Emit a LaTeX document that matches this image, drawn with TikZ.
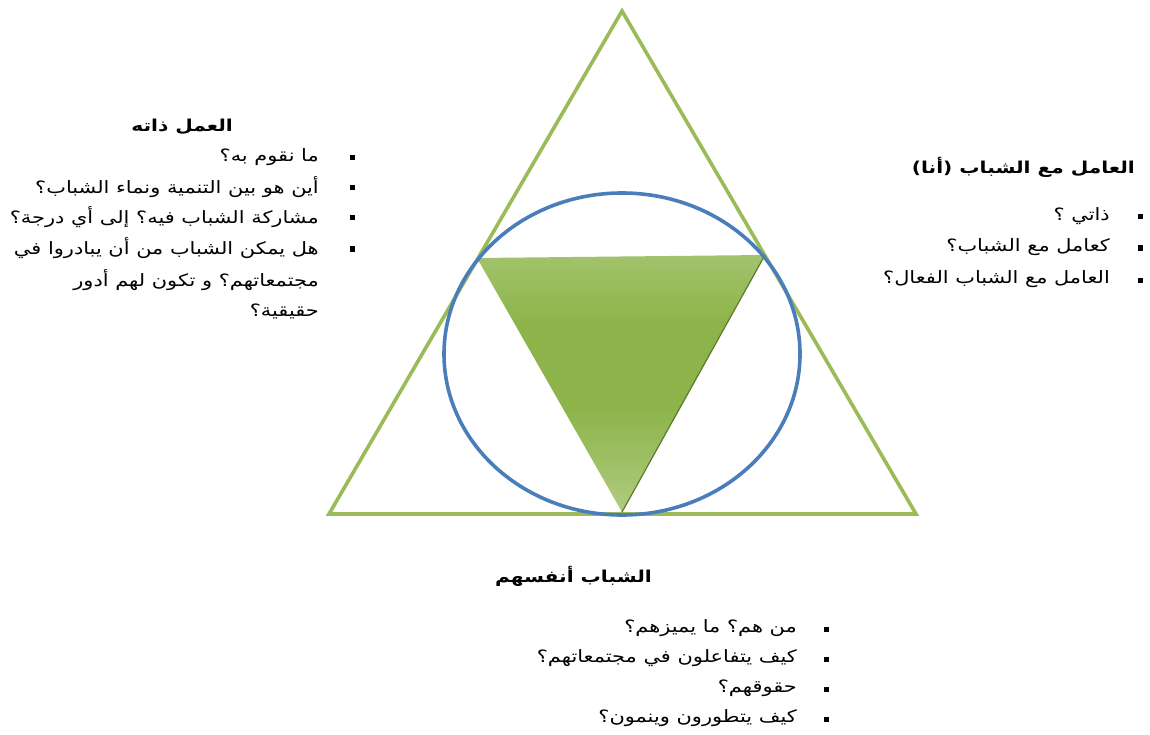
\documentclass[tikz,border=0pt]{standalone}
\usepackage{fontspec}
\setmainfont{DejaVu Sans}
\newfontfamily\arabicfont[Script=Arabic,FakeStretch=1.23]{DejaVu Sans}
\TeXXeTstate=1
\definecolor{trigreen}{HTML}{9BBB59}
\definecolor{ringblue}{HTML}{4A7EBB}
\definecolor{fillTop}{HTML}{C6DAA2}
\definecolor{fillMid}{HTML}{8DB44A}
\definecolor{fillBot}{HTML}{B8D18E}
\definecolor{edgeDark}{HTML}{5E7A2C}
% light at both ends, deepest green a little below the middle
\pgfdeclareverticalshading{invtri}{100bp}{
  color(0bp)=(fillTop); color(12bp)=(fillTop); color(45bp)=(fillMid);
  color(62bp)=(fillMid); color(88bp)=(fillBot); color(100bp)=(fillBot)}
\begin{document}
\begin{tikzpicture}[x=1pt,y=-1pt,
  outline/.style={draw=trigreen,line width=3.6pt,line join=miter},
  ring/.style={draw=ringblue,line width=3.6pt},
  heading/.style={font=\arabicfont\bfseries\fontsize{16.4}{19}\selectfont,anchor=east,inner sep=0pt,text=black},
  item/.style={font=\arabicfont\fontsize{17}{20}\selectfont,anchor=east,inner sep=0pt,text=black},
  dot/.style={rectangle,fill=black,inner sep=0pt,minimum size=5pt}]
\useasboundingbox (0,0) rectangle (1150,735);

% outer triangle
\coordinate (A) at (622,11);
\coordinate (B) at (329,514);
\coordinate (C) at (916,514);
\draw[outline] (A) -- (B) -- (C) -- cycle;

% inner shaded triangle
\coordinate (P) at (477,258);
\coordinate (Q) at (765,255);
\coordinate (R) at (622,512);
\shade[shading=invtri] (P) -- (Q) -- (R) -- cycle;
\draw[edgeDark,line width=1.2pt] (Q) -- (R);

% ring
\draw[ring] (622,354) ellipse [x radius=178,y radius=161];

% left block
\node[heading] (h1) at (233,127) {\beginR العمل ذاته\endR};
\node[dot] (b11) at (352,158) {};
\node[dot] (b12) at (352,188) {};
\node[dot] (b13) at (352,218) {};
\node[dot] (b14) at (352,249) {};
\node[item] (t11) at (319,157) {\beginR ما نقوم به؟\endR};
\node[item] (t12) at (319,187) {\beginR أين هو بين التنمية ونماء الشباب؟\endR};
\node[item] (t13) at (319,217) {\beginR مشاركة الشباب فيه؟ إلى أي درجة؟\endR};
\node[item] (t14) at (319,248) {\beginR هل يمكن الشباب من أن يبادروا في\endR};
\node[item] (t15) at (319,280) {\beginR مجتمعاتهم؟ و تكون لهم أدور\endR};
\node[item] (t16) at (319,311) {\beginR حقيقية؟\endR};

% right block
\node[heading] (h2) at (1135,167) {\beginR العامل مع الشباب (أنا)\endR};
\node[dot] (b21) at (1140,217) {};
\node[dot] (b22) at (1140,248) {};
\node[dot] (b23) at (1140,280) {};
\node[item] (t21) at (1110,216) {\beginR ذاتي ؟\endR};
\node[item] (t22) at (1110,247) {\beginR كعامل مع الشباب؟\endR};
\node[item] (t23) at (1110,279) {\beginR العامل مع الشباب الفعال؟\endR};

% bottom block
\node[heading] (h3) at (652,576) {\beginR الشباب أنفسهم\endR};
\node[dot] (b31) at (826,629) {};
\node[dot] (b32) at (826,659) {};
\node[dot] (b33) at (826,689) {};
\node[dot] (b34) at (826,719) {};
\node[item] (t31) at (797,628) {\beginR من هم؟ ما يميزهم؟\endR};
\node[item] (t32) at (797,658) {\beginR كيف يتفاعلون في مجتمعاتهم؟\endR};
\node[item] (t33) at (797,688) {\beginR حقوقهم؟\endR};
\node[item] (t34) at (797,718) {\beginR كيف يتطورون وينمون؟\endR};
\end{tikzpicture}
\end{document}
